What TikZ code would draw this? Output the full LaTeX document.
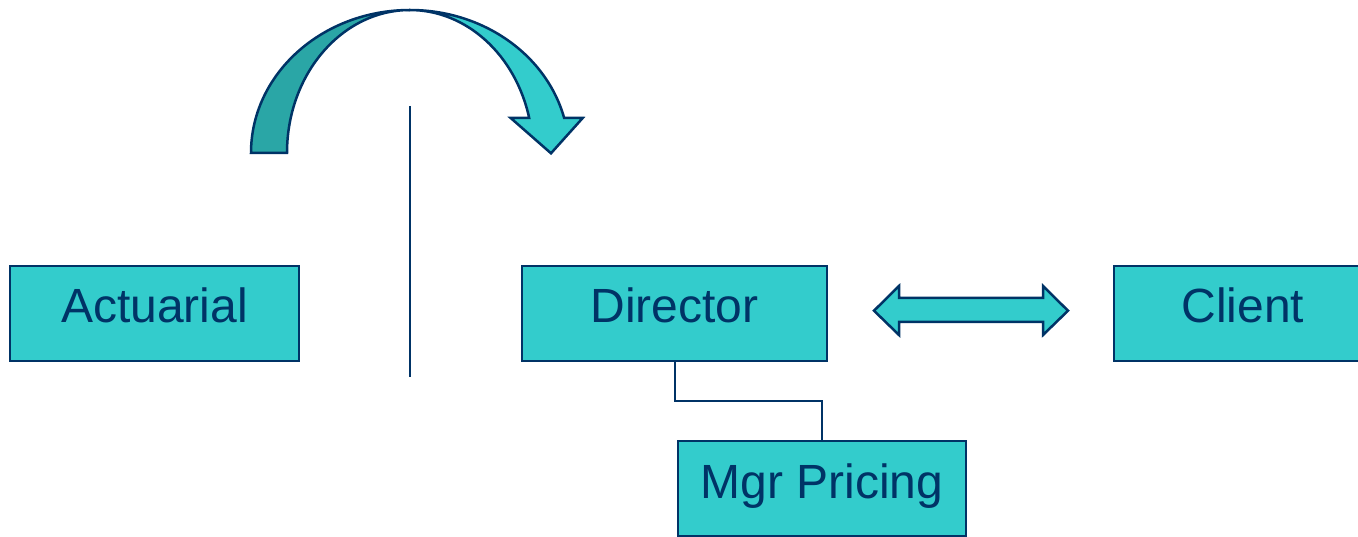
\documentclass[tikz,border=0pt]{standalone}
\usepackage{fontspec}
\setmainfont{Liberation Sans}
\definecolor{teal1}{HTML}{33CCCC}
\definecolor{teal2}{HTML}{2AA6A6}
\definecolor{navy}{HTML}{003366}
\tikzset{
  box/.style={draw=navy, fill=teal1, line width=2.5pt, text=navy,
    font=\fontsize{48}{58}\selectfont, text height=36pt, text depth=17pt,
    inner sep=0pt, minimum height=95pt},
  link/.style={draw=navy, line width=2.5pt},
  blockarrow/.style={draw=navy, line width=2.5pt, line join=miter}
}
\begin{document}
\begin{tikzpicture}[x=1pt,y=1pt]
\useasboundingbox (0,0) rectangle (1358,-537);
\clip (0,0) rectangle (1358,-537);
% boxes
\node[box, minimum width=289pt] (act) at (154.5,-313.5) {Actuarial};
\node[box, minimum width=305pt] (dir) at (674.5,-313.5) {Director};
\node[box, minimum width=258pt] (cli) at (1243,-313.5) {Client};
\node[box, minimum width=288pt] (mgr) at (822,-488.5) {Mgr Pricing};
% connector Director -> Mgr Pricing
\coordinate (d1) at (675,-401);
\draw[link] (dir.south -| d1) -- (d1) -- (d1 -| mgr.north) -- (mgr.north);
% vertical line
\coordinate (v1) at (410,-106);
\coordinate (v2) at (410,-377);
\draw[link] (v1) -- (v2);
% double arrow
\filldraw[blockarrow, fill=teal1] (874,-310.7) -- (899,-286) -- (899,-298) -- (1043,-298) -- (1043,-286)
  -- (1068,-310.7) -- (1043,-335) -- (1043,-322) -- (899,-322) -- (899,-335) -- cycle;
% curved arrow: light front band with head
\filldraw[blockarrow, fill=teal1] (410,-10)
  arc[start angle=90, end angle=14.18, x radius=159pt, y radius=143pt]
  -- (582.7,-118) -- (551,-153.3) -- (510.7,-118) -- (529.2,-118)
  arc[start angle=14.18, end angle=90, x radius=123pt, y radius=143pt] -- cycle;
% darker back band
\filldraw[blockarrow, fill=teal2] (251,-153)
  arc[start angle=180, end angle=90, x radius=159pt, y radius=143pt]
  arc[start angle=90, end angle=180, x radius=123pt, y radius=143pt] -- cycle;
\end{tikzpicture}
\end{document}
